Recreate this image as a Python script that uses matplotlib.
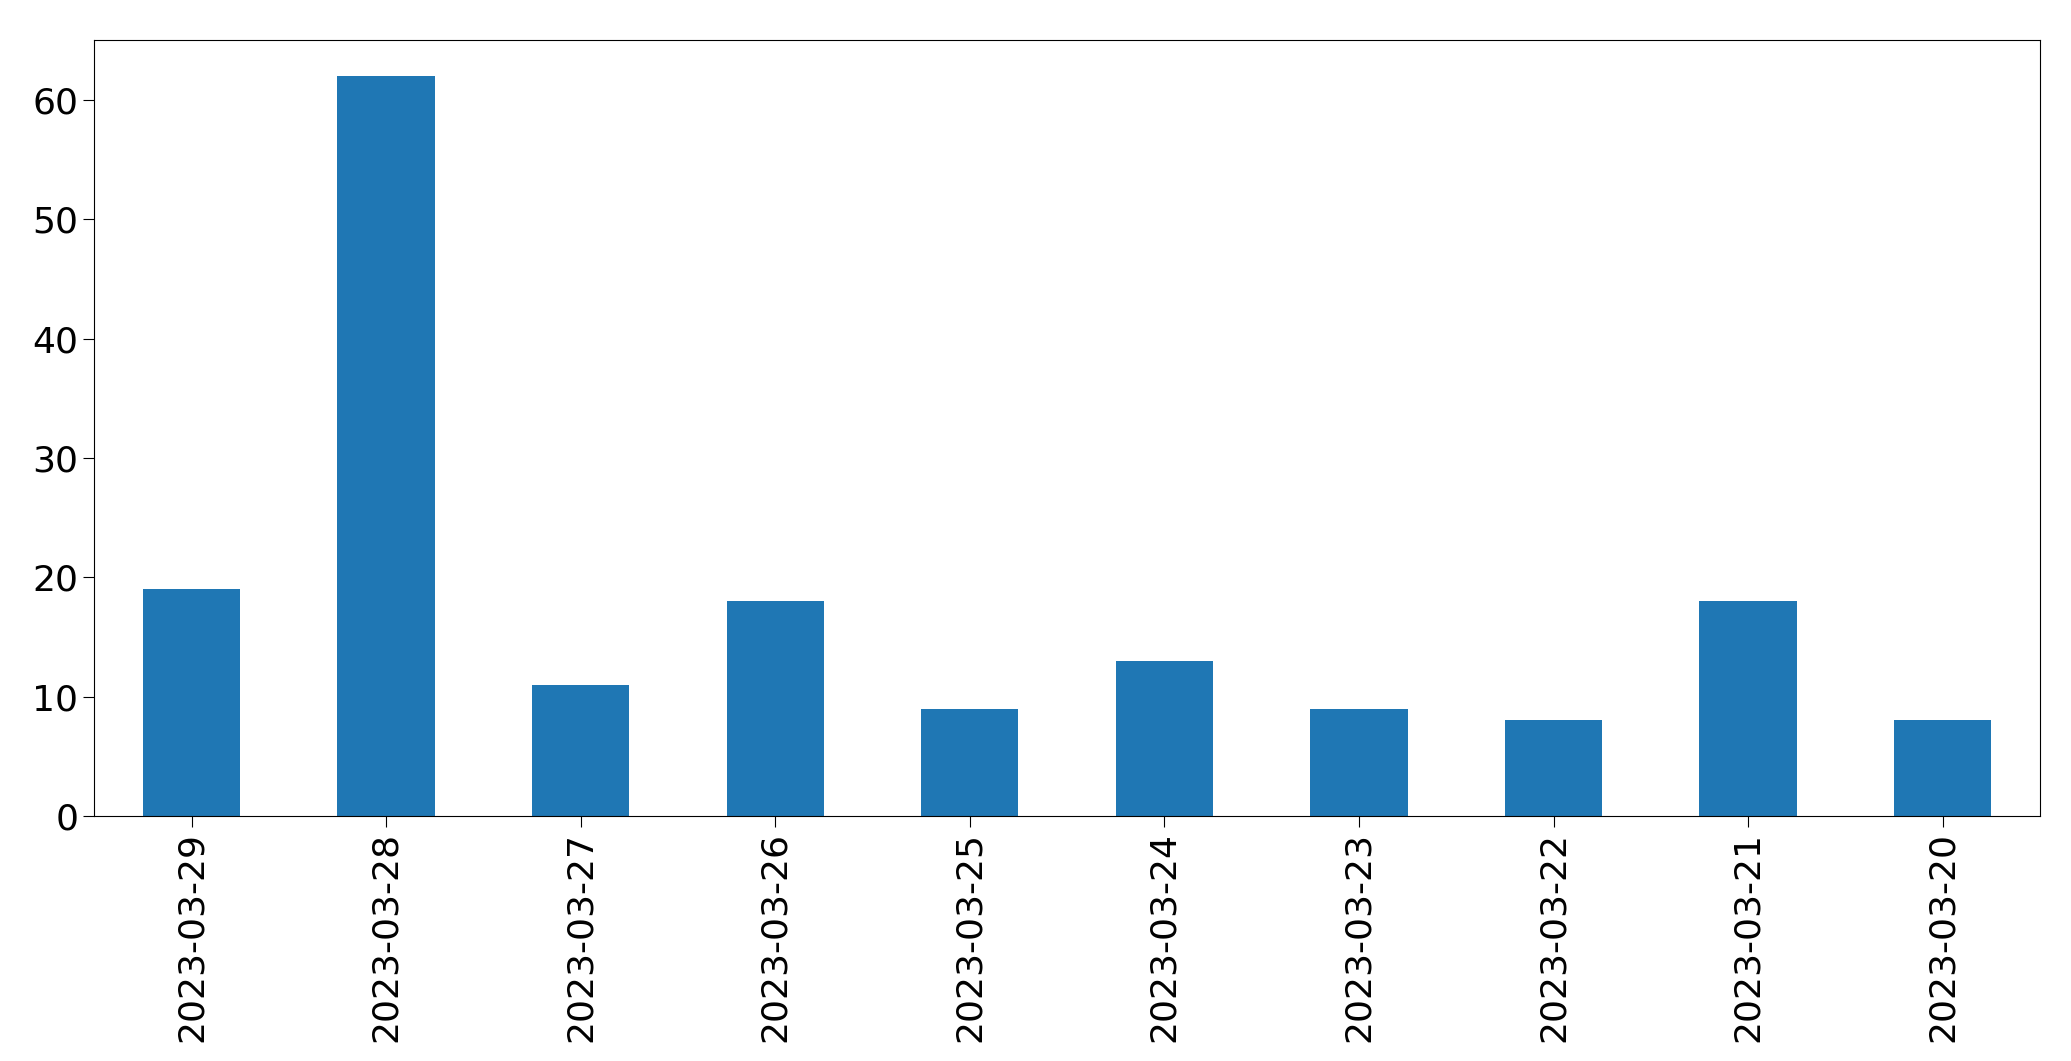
import matplotlib
matplotlib.use("Agg")
import matplotlib.pyplot as plt

dates = ["2023-03-29","2023-03-28","2023-03-27","2023-03-26","2023-03-25",
         "2023-03-24","2023-03-23","2023-03-22","2023-03-21","2023-03-20"]
counts = [19, 62, 11, 18, 9, 13, 9, 8, 18, 8]

fig = plt.figure(figsize=(20.71, 10.61), dpi=100)
ax = fig.add_axes([0.0455, 0.231, 0.9395, 0.731])
x = range(len(dates))
ax.bar(x, counts, width=0.5, color="#1f77b4")
ax.set_xlim(-0.5, len(dates) - 0.5)
ax.set_ylim(0, 65)
ax.set_xticks(list(x))
ax.set_xticklabels(dates, rotation=90)
ax.tick_params(labelsize=26, length=8)
fig.savefig("out.png", dpi=100)
